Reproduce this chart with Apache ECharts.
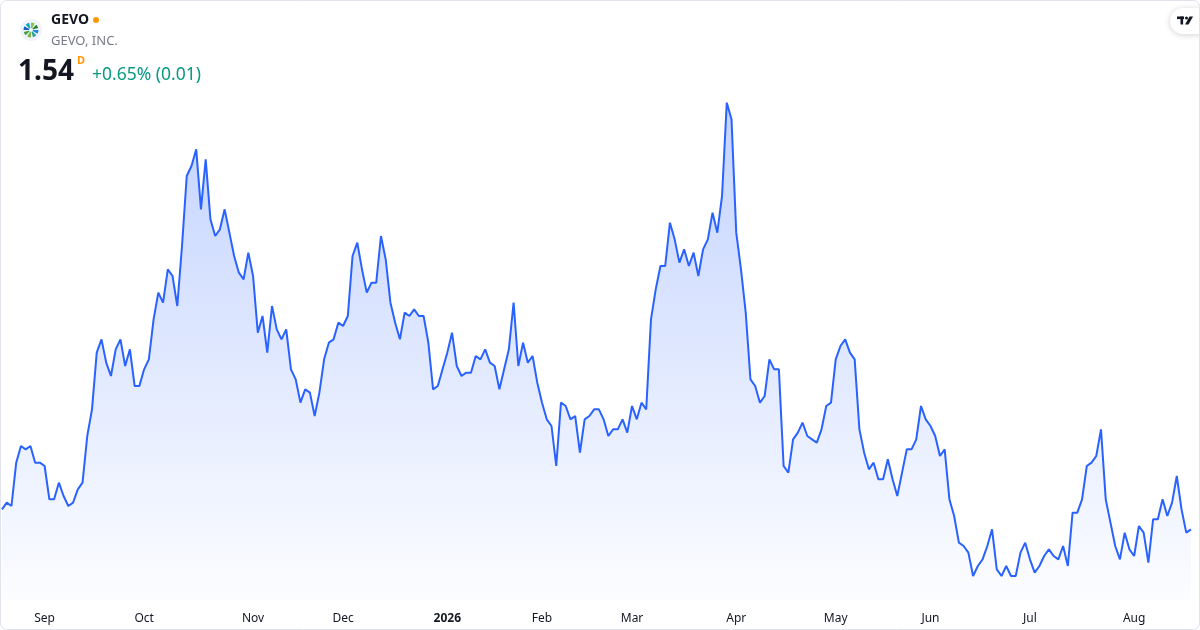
<!DOCTYPE html>
<html>
<head>
<meta charset="utf-8">
<script src="https://cdn.jsdelivr.net/npm/echarts@6/dist/echarts.min.js"></script>
<style>
  html, body { margin: 0; padding: 0; background: #ffffff; }
  #chart { width: 1200px; height: 630px; }
</style>
</head>
<body>
<div id="chart"></div>
<script>
// Daily closing prices (Aug 19, 2025 – Aug 19, 2026)
const prices = [
  1.60,1.62,1.61,1.74,1.79,1.78,1.79,1.74,1.74,1.73,
  1.63,1.63,1.68,1.64,1.61,1.62,1.66,1.68,1.82,1.90,
  2.07,2.11,2.04,2.00,2.08,2.11,2.03,2.08,1.97,1.97,
  2.02,2.05,2.17,2.25,2.22,2.32,2.30,2.21,2.39,2.60,
  2.63,2.68,2.50,2.65,2.47,2.42,2.44,2.50,2.43,2.36,
  2.31,2.29,2.37,2.30,2.13,2.18,2.07,2.21,2.14,2.11,
  2.14,2.02,1.99,1.92,1.96,1.95,1.88,1.95,2.05,2.10,
  2.11,2.16,2.15,2.18,2.36,2.40,2.32,2.25,2.28,2.28,
  2.42,2.35,2.22,2.16,2.11,2.19,2.18,2.20,2.18,2.18,
  2.10,1.96,1.97,2.02,2.07,2.13,2.03,2.00,2.01,2.01,
  2.06,2.05,2.08,2.04,2.03,1.96,2.02,2.08,2.22,2.03,
  2.10,2.04,2.06,1.98,1.92,1.87,1.85,1.73,1.92,1.91,
  1.87,1.88,1.77,1.87,1.88,1.90,1.90,1.87,1.82,1.84,
  1.84,1.87,1.83,1.91,1.87,1.92,1.90,2.17,2.26,2.33,
  2.33,2.46,2.41,2.34,2.38,2.33,2.37,2.30,2.38,2.41,
  2.49,2.43,2.54,2.82,2.77,2.43,2.32,2.19,1.99,1.97,
  1.92,1.94,2.05,2.02,2.02,1.73,1.71,1.81,1.83,1.86,
  1.82,1.81,1.80,1.84,1.91,1.92,2.05,2.09,2.11,2.07,
  2.05,1.84,1.77,1.72,1.74,1.69,1.69,1.75,1.69,1.64,
  1.71,1.78,1.78,1.81,1.91,1.87,1.85,1.82,1.76,1.78,
  1.63,1.58,1.50,1.49,1.47,1.40,1.43,1.45,1.49,1.54,
  1.42,1.40,1.43,1.40,1.40,1.47,1.50,1.45,1.41,1.43,
  1.46,1.48,1.46,1.45,1.49,1.43,1.59,1.59,1.63,1.73,
  1.74,1.76,1.84,1.63,1.56,1.49,1.45,1.53,1.48,1.46,
  1.55,1.53,1.44,1.57,1.57,1.63,1.58,1.62,1.70,1.60,
  1.53,1.54
];

// Trading-day index of the first session of each month -> tick label
const monthTicks = [
  [9,'Sep'],[30,'Oct'],[53,'Nov'],[72,'Dec'],[94,'2026'],[114,'Feb'],
  [133,'Mar'],[155,'Apr'],[176,'May'],[196,'Jun'],[217,'Jul'],[239,'Aug']
];
const yearTicks = ['2026'];

// Header texts
const symbol = 'GEVO';
const company = 'GEVO, INC.';
const lastPrice = '1.54';
const intervalTag = 'D';
const changeText = '+0.65% (0.01)';

const categories = prices.map((_, i) => String(i));
const tickMap = new Map(monthTicks);

const FONT = '"Noto Sans", "Open Sans", sans-serif';
const chart = echarts.init(document.getElementById('chart'), null, { renderer: 'canvas' });

const petalColors = ['#1e88e5','#26a69a','#7cb342','#43a047','#1565c0','#00acc1','#8bc34a','#2e7d32'];
const petals = petalColors.map((c, k) => ({
  type: 'sector',
  shape: { cx: 31, cy: 30, r0: 1.5, r: 7.5,
           startAngle: k * Math.PI / 4, endAngle: k * Math.PI / 4 + Math.PI / 6 },
  style: { fill: c }, z: 11
}));

chart.setOption({
  animation: false,
  backgroundColor: '#ffffff',
  grid: { left: 2, right: 9, top: 90, bottom: 30, containLabel: false },
  xAxis: {
    type: 'category',
    data: categories,
    boundaryGap: false,
    axisLine: { show: false },
    axisTick: { show: false },
    splitLine: { show: false },
    axisLabel: {
      interval: (idx) => tickMap.has(idx),
      hideOverlap: false,
      margin: 13,
      formatter: (v) => {
        const lab = tickMap.get(Number(v)) || '';
        return yearTicks.includes(lab) ? '{b|' + lab + '}' : lab;
      },
      color: '#131722',
      fontFamily: FONT,
      fontSize: 12,
      rich: { b: { fontWeight: 'bold', fontFamily: FONT, fontSize: 12, color: '#131722' } }
    }
  },
  yAxis: {
    type: 'value',
    min: 1.328,
    max: 2.858,
    show: false,
    splitLine: { show: false }
  },
  series: [{
    type: 'line',
    data: prices,
    showSymbol: false,
    symbol: 'none',
    smooth: false,
    lineStyle: { color: '#2962ff', width: 2 },
    areaStyle: {
      color: new echarts.graphic.LinearGradient(0, 0, 0, 1, [
        { offset: 0, color: 'rgba(41,98,255,0.40)' },
        { offset: 1, color: 'rgba(41,98,255,0.02)' }
      ])
    }
  }],
  graphic: [
    { type: 'rect', shape: { x: 0.5, y: 0.5, width: 1199, height: 629, r: 6 },
      style: { fill: 'none', stroke: '#e0e3eb', lineWidth: 1 }, z: 20, silent: true },
    { type: 'circle', shape: { cx: 31, cy: 30, r: 11 }, style: { fill: '#f0f3fa' }, z: 10 },
    ...petals,
    { type: 'circle', shape: { cx: 31, cy: 30, r: 1.8 }, style: { fill: '#ffffff' }, z: 12 },
    { type: 'text', x: 51, y: 20, z: 10,
      style: { text: symbol, font: 'bold 14px ' + FONT, fill: '#131722', textVerticalAlign: 'middle' } },
    { type: 'circle', shape: { cx: 96, cy: 20, r: 3 }, style: { fill: '#ff9800' }, z: 10 },
    { type: 'text', x: 51, y: 41, z: 10,
      style: { text: company, font: '13px ' + FONT, fill: '#787b86', textVerticalAlign: 'middle' } },
    { type: 'text', x: 18, y: 72, z: 10,
      style: { text: lastPrice, font: 'bold 28px ' + FONT, fill: '#131722', textVerticalAlign: 'middle' } },
    { type: 'text', x: 77, y: 61, z: 10,
      style: { text: intervalTag, font: 'bold 11px ' + FONT, fill: '#ff9800', textVerticalAlign: 'middle' } },
    { type: 'text', x: 92, y: 75, z: 10,
      style: { text: changeText, font: '17.5px ' + FONT, fill: '#089981', textVerticalAlign: 'middle' } },
    // TradingView badge
    { type: 'rect', shape: { x: 1170, y: 8, width: 40, height: 26, r: 13 },
      style: { fill: '#ffffff', shadowBlur: 6, shadowColor: 'rgba(0,0,0,0.18)', shadowOffsetY: 1 }, z: 15 },
    { type: 'rect', shape: { x: 1177, y: 16.5, width: 7, height: 2.6 }, style: { fill: '#131722' }, z: 16 },
    { type: 'rect', shape: { x: 1180.5, y: 16.5, width: 2.6, height: 8 }, style: { fill: '#131722' }, z: 16 },
    { type: 'circle', shape: { cx: 1186.5, cy: 18, r: 1.5 }, style: { fill: '#131722' }, z: 16 },
    { type: 'polygon', shape: { points: [[1189.5,16.5],[1193,16.5],[1188.5,24.5],[1185,24.5]] },
      style: { fill: '#131722' }, z: 16 }
  ]
});
</script>
</body>
</html>
